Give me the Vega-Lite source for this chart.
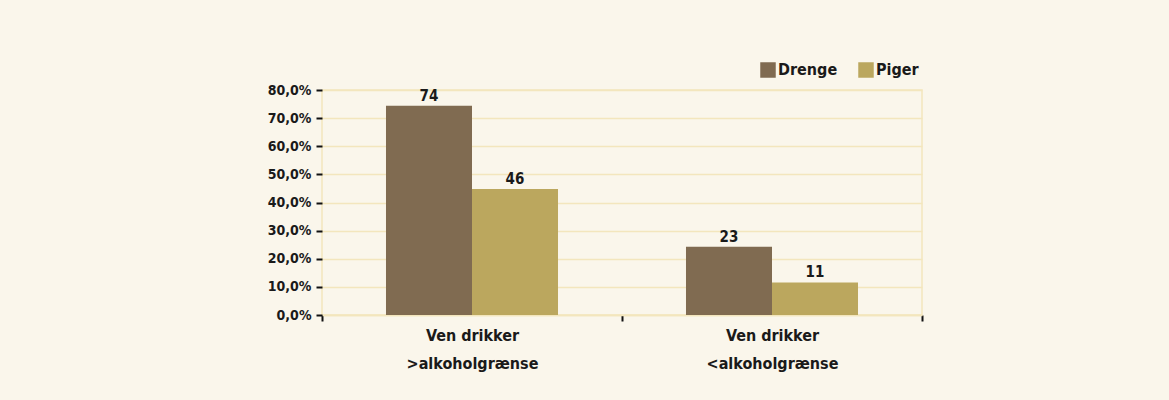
{
  "$schema": "https://vega.github.io/schema/vega-lite/v6.json",
  "autosize": {"type": "none"},
  "padding": {"left": 322, "top": 90, "right": 247, "bottom": 85},
  "width": 600,
  "height": 225,
  "background": "#faf6eb",
  "config": {
    "font": "DejaVu Sans Condensed, sans-serif",
    "view": {"stroke": "#f3e6bd", "strokeWidth": 1.5}
  },
  "data": {
    "values": [
      {"kategori": "Ven drikker >alkoholgrænse", "køn": "Drenge", "værdi": 74.4, "label": "74"},
      {"kategori": "Ven drikker >alkoholgrænse", "køn": "Piger", "værdi": 44.8, "label": "46"},
      {"kategori": "Ven drikker <alkoholgrænse", "køn": "Drenge", "værdi": 24.3, "label": "23"},
      {"kategori": "Ven drikker <alkoholgrænse", "køn": "Piger", "værdi": 11.6, "label": "11"}
    ]
  },
  "encoding": {
    "x": {
      "field": "kategori",
      "type": "nominal",
      "sort": ["Ven drikker >alkoholgrænse", "Ven drikker <alkoholgrænse"],
      "scale": {"paddingInner": 0, "paddingOuter": 0},
      "axis": {
        "title": null,
        "labelAngle": 0,
        "labelExpr": "split(replace(datum.label, 'drikker ', 'drikker|'), '|')",
        "labelFont": "DejaVu Sans Condensed, sans-serif",
        "labelFontSize": 16,
        "labelFontWeight": "bold",
        "labelColor": "#1a1a1a",
        "labelLineHeight": 28,
        "labelPadding": 6,
        "labelOverlap": false,
        "tickBand": "extent",
        "tickColor": "#111111",
        "tickWidth": 2,
        "tickSize": 6,
        "domainColor": "#f3e6bd",
        "domainWidth": 1.5,
        "grid": false
      }
    },
    "xOffset": {
      "field": "køn",
      "type": "nominal",
      "sort": ["Drenge", "Piger"],
      "scale": {"paddingInner": 0, "paddingOuter": 0.744}
    },
    "y": {
      "field": "værdi",
      "type": "quantitative",
      "scale": {"domain": [0, 80], "nice": false},
      "axis": {
        "title": null,
        "values": [0, 10, 20, 30, 40, 50, 60, 70, 80],
        "tickCount": 20,
        "labelExpr": "replace(format(datum.value, '.1f'), '.', ',') + '%'",
        "labelFont": "DejaVu Sans Condensed, sans-serif",
        "labelFontSize": 14,
        "labelFontWeight": "bold",
        "labelColor": "#1a1a1a",
        "labelPadding": 5,
        "labelOverlap": false,
        "tickColor": "#111111",
        "tickWidth": 2,
        "tickSize": 6,
        "domain": false,
        "grid": true,
        "gridColor": "#f3e6bd",
        "gridWidth": 1.5
      }
    }
  },
  "layer": [
    {
      "mark": {"type": "bar"},
      "encoding": {
        "color": {
          "field": "køn",
          "type": "nominal",
          "sort": ["Drenge", "Piger"],
          "scale": {"domain": ["Drenge", "Piger"], "range": ["#806b51", "#bba75e"]},
          "legend": {
            "title": null,
            "orient": "none",
            "direction": "horizontal",
            "legendX": 438,
            "legendY": -28,
            "symbolType": "square",
            "symbolSize": 240,
            "symbolStrokeWidth": 0,
            "symbolOpacity": 1,
            "labelFont": "DejaVu Sans Condensed, sans-serif",
            "labelFontSize": 16,
            "labelFontWeight": "bold",
            "labelColor": "#1a1a1a",
            "labelOffset": 2,
            "columnPadding": 20
          }
        }
      }
    },
    {
      "mark": {
        "type": "text",
        "dy": -10,
        "font": "DejaVu Sans Condensed, sans-serif",
        "fontSize": 15,
        "fontWeight": "bold",
        "color": "#1a1a1a"
      },
      "encoding": {
        "text": {"field": "label"}
      }
    }
  ]
}
